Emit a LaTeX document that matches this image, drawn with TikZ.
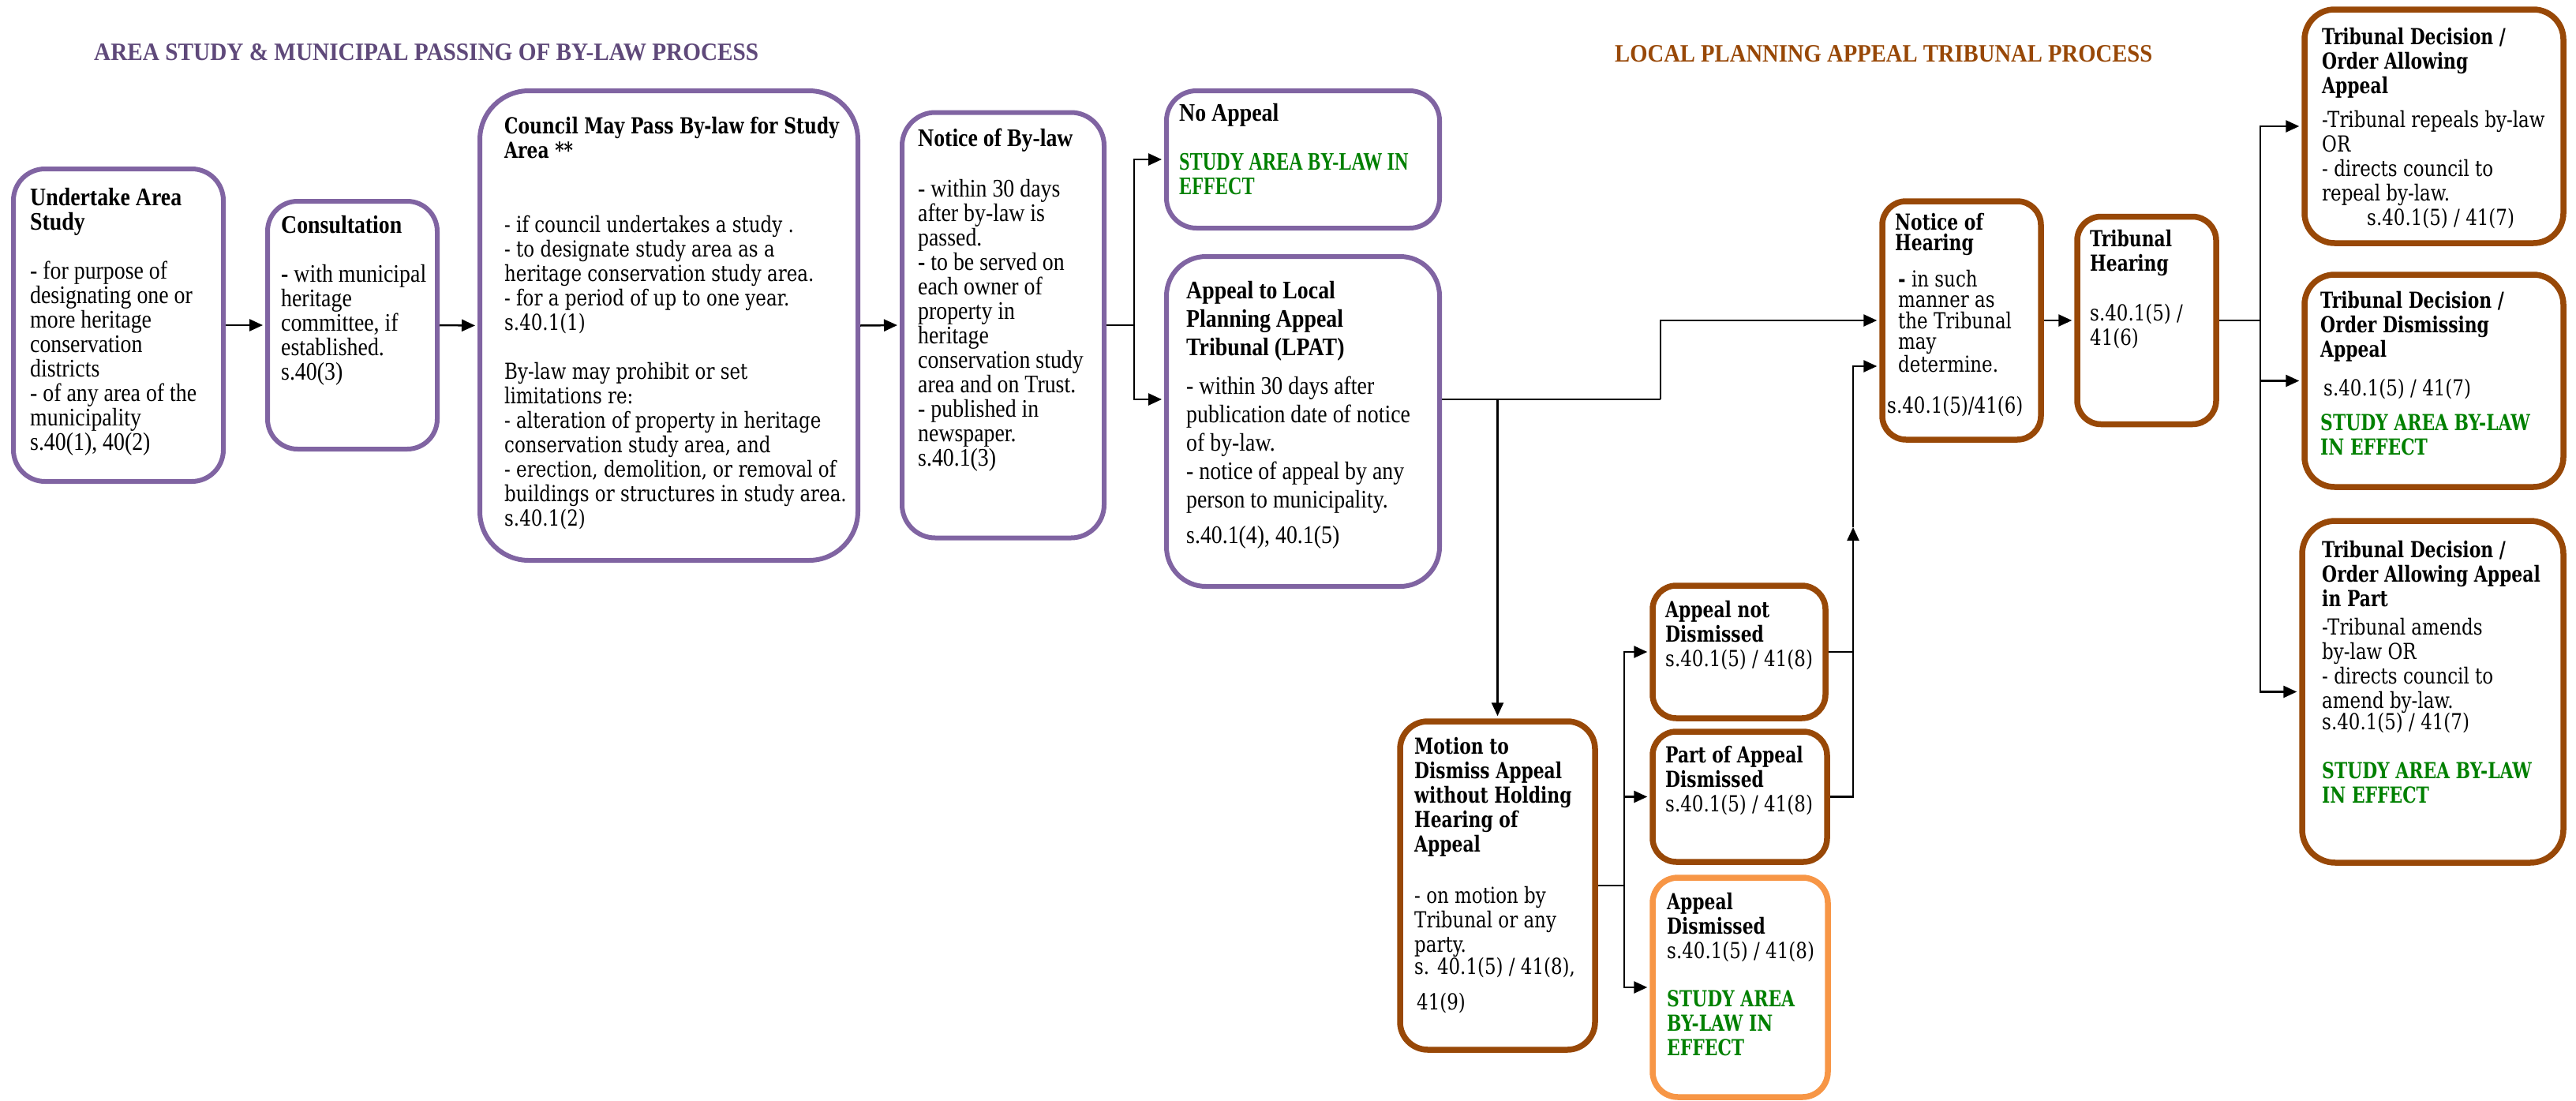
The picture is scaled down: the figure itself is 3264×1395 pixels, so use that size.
\documentclass[tikz,border=0pt]{standalone}
\usepackage{fontspec}
\usepackage{graphicx}
\usetikzlibrary{arrows.meta,calc}
\newfontfamily\narrowf[FakeStretch=0.87]{Liberation Serif}
\newfontfamily\widef[FakeStretch=0.82]{DejaVu Serif}
\newfontfamily\widebfont[FakeStretch=0.78,UprightFont={* Bold}]{DejaVu Serif}
\definecolor{purp}{HTML}{8064A2}
\definecolor{purptitle}{HTML}{5F497A}
\definecolor{brn}{HTML}{984807}
\definecolor{orng}{HTML}{F79646}
\definecolor{grn}{HTML}{008000}
\newcommand\wb[1]{{\widebfont #1}}
\newcommand\gw[1]{{\color{grn}\widebfont #1}}
\newcommand\gn[1]{{\color{grn}\bfseries\scalebox{0.87}[1]{#1}}}
\begin{document}
\begin{tikzpicture}[x=1pt,y=-1pt,
 pbox/.style={draw=purp,line width=6pt,fill=white},
 bbox/.style={draw=brn,line width=7.5pt,fill=white},
 obox/.style={draw=orng,line width=7.5pt,fill=white},
 ntxt/.style={anchor=north west,inner sep=0pt,align=left,font={\narrowf\fontsize{32pt}{31pt}\selectfont}},
 wtxt/.style={anchor=north west,inner sep=0pt,align=left,font={\widef\fontsize{28pt}{31pt}\selectfont}},
 arr/.style={line width=2.5pt,-{Triangle[length=17pt,width=15pt]},shorten >=3pt},
 ln/.style={line width=2.5pt},
 ttl/.style={anchor=west,inner sep=0pt}]
\fill[white] (0,0) rectangle (3264,1395);
\useasboundingbox (0,0) rectangle (3264,1395);

% titles
\node[ttl] (title1) at (119,66) {\resizebox{842pt}{21pt}{\color{purptitle}\narrowf\bfseries AREA STUDY \& MUNICIPAL PASSING OF BY-LAW PROCESS}};
\node[ttl] (title2) at (2046,68) {\resizebox{681pt}{21pt}{\color{brn}\narrowf\bfseries LOCAL PLANNING APPEAL TRIBUNAL PROCESS}};

% boxes
\node[pbox,rounded corners=40pt,minimum width=266pt,minimum height=396pt] (b1) at (150,412) {};
\node[pbox,rounded corners=38pt,minimum width=215pt,minimum height=314pt] (b2) at (446.5,412) {};
\node[pbox,rounded corners=62pt,minimum width=479pt,minimum height=595pt] (b3) at (847.5,412.5) {};
\node[pbox,rounded corners=42pt,minimum width=256pt,minimum height=539pt] (b4) at (1271,412) {};
\node[pbox,rounded corners=38pt,minimum width=346pt,minimum height=174pt] (b5) at (1651,202) {};
\node[pbox,rounded corners=50pt,minimum width=346pt,minimum height=418pt] (b6) at (1651,534) {};
\node[bbox,rounded corners=35pt,minimum width=247pt,minimum height=416pt] (b7) at (1897.5,1122) {};
\node[bbox,rounded corners=30pt,minimum width=219pt,minimum height=168pt] (b8) at (2203.5,826) {};
\node[bbox,rounded corners=30pt,minimum width=221pt,minimum height=165pt] (b9) at (2204.5,1009.5) {};
\node[obox,rounded corners=32pt,minimum width=222pt,minimum height=278pt] (b11) at (2205,1251) {};
\node[bbox,rounded corners=30pt,minimum width=201pt,minimum height=302pt] (b10) at (2485.5,406) {};
\node[bbox,rounded corners=30pt,minimum width=176pt,minimum height=263pt] (b12) at (2720,406) {};
\node[bbox,rounded corners=38pt,minimum width=328pt,minimum height=296pt] (b13) at (3084,160) {};
\node[bbox,rounded corners=38pt,minimum width=328pt,minimum height=269pt] (b14) at (3084,482.5) {};
\node[bbox,rounded corners=42pt,minimum width=331pt,minimum height=433pt] (b15) at (3082.5,876.5) {};

% texts
\node[ntxt] (t1) at (38,238) {\textbf{Undertake Area}\\\textbf{Study}\\[31pt]- for purpose of\\designating one or\\more heritage\\conservation\\districts\\- of any area of the\\municipality\\s.40(1), 40(2)};
\node[ntxt] (t2) at (356,273) {\textbf{Consultation}\\[31pt]\textbf{-} with municipal\\heritage\\committee, if\\established.\\s.40(3)};
\node[wtxt] (t3) at (639,148) {\wb{Council May Pass By-law for Study}\\\wb{Area **}\\[63pt]- if council undertakes a study .\\- to designate study area as a\\heritage conservation study area.\\- for a period of up to one year.\\s.40.1(1)\\[31pt]By-law may prohibit or set\\limitations re:\\- alteration of property in heritage\\conservation study area, and\\- erection, demolition, or removal of\\buildings or structures in study area.\\s.40.1(2)};
\node[ntxt] (t4) at (1163,163) {\textbf{Notice of By-law}\\[33pt]- within 30 days\\after by-law is\\passed.\\\textbf{-} to be served on\\each owner of\\property in\\heritage\\conservation study\\area and on Trust.\\- published in\\newspaper.\\s.40.1(3)};
\node[ntxt] (t5) at (1494,131) {\textbf{No Appeal}\\[31pt]\gn{STUDY AREA BY-LAW IN}\\\gn{EFFECT}};
\node[ntxt,font={\narrowf\fontsize{32pt}{36pt}\selectfont}] (t6) at (1503,356) {\textbf{Appeal to Local}\\\textbf{Planning Appeal}\\\textbf{Tribunal (LPAT)}\\[13pt]- within 30 days after\\publication date of notice\\of by-law.\\- notice of appeal by any\\person to municipality.\\[9pt]s.40.1(4), 40.1(5)};
\node[wtxt] (t7) at (1792,934) {\wb{Motion to}\\\wb{Dismiss Appeal}\\\wb{without Holding}\\\wb{Hearing of}\\\wb{Appeal}\\[34pt]- on motion by\\Tribunal or any\\party.\\[-3pt]s. 40.1(5) / 41(8),\\[14pt]\hspace*{3pt}41(9)};
\node[wtxt] (t8) at (2110,761) {\wb{Appeal not}\\\wb{Dismissed}\\s.40.1(5) / 41(8)};
\node[wtxt] (t9) at (2110,945) {\wb{Part of Appeal}\\\wb{Dismissed}\\s.40.1(5) / 41(8)};
\node[wtxt] (t11) at (2112,1131) {\wb{Appeal}\\\wb{Dismissed}\\s.40.1(5) / 41(8)\\[30pt]\gw{STUDY AREA}\\\gw{BY-LAW IN}\\\gw{EFFECT}};
\node[wtxt,font={\widef\fontsize{28pt}{26.5pt}\selectfont}] (t10) at (2391,270) {\hspace*{10pt}\wb{Notice of}\\\hspace*{10pt}\wb{Hearing}\\[17pt]\hspace*{14pt}\textbf{-} in such\\\hspace*{14pt}manner as\\\hspace*{14pt}the Tribunal\\\hspace*{14pt}may\\\hspace*{14pt}determine.\\[26pt]s.40.1(5)/41(6)};
\node[wtxt] (t12) at (2648,291) {\wb{Tribunal}\\\wb{Hearing}\\[32pt]s.40.1(5) /\\41(6)};
\node[wtxt] (t13) at (2942,35) {\wb{Tribunal Decision /}\\\wb{Order Allowing}\\\wb{Appeal}\\[12pt]-Tribunal repeals by-law\\OR\\- directs council to\\repeal by-law.\\\hspace*{57pt}s.40.1(5) / 41(7)};
\node[wtxt] (t14) at (2940,369) {\wb{Tribunal Decision /}\\\wb{Order Dismissing}\\\wb{Appeal}\\[18pt]\hspace*{4pt}s.40.1(5) / 41(7)\\[13pt]\gw{STUDY AREA BY-LAW}\\\gw{IN EFFECT}};
\node[wtxt] (t15) at (2942,685) {\wb{Tribunal Decision /}\\\wb{Order Allowing Appeal}\\\wb{in Part}\\[5pt]-Tribunal amends\\by-law OR\\- directs council to\\amend by-law.\\[-4pt]s.40.1(5) / 41(7)\\[31pt]\gw{STUDY AREA BY-LAW}\\\gw{IN EFFECT}};

% connectors
\draw[arr] (b1.east) -- (b2.west);
\draw[arr] (b2.east) -- (b3.west);
\draw[arr] (b3.east) -- (b4.west);
\coordinate (j1) at (1437,412);
\coordinate (j2) at (1437,506);
\draw[ln] (b4.east) -- (j1);
\draw[arr] (j1) |- (b5.west);
\draw[arr] (j1) -- (j2) -- (b6.west |- j2);
\coordinate (k0) at (1897.5,506);
\coordinate (k1) at (2104,506);
\draw[ln] (b6.east |- j2) -- (k1);
\draw[arr] (k1) |- (b10.west);
\draw[arr] (k0) -- (b7.north);
\coordinate (m0) at (2058,1122);
\draw[ln] (b7.east) -- (m0);
\draw[arr] (m0) |- (b8.west);
\draw[arr] (m0) |- (b9.west);
\draw[arr] (m0) |- (b11.west);
\coordinate (n1) at (2348,668);
\coordinate (n2) at (2348,464);
\draw[ln] (b8.east) -- (b8.east -| n1);
\draw[arr,shorten >=0pt] (b9.east) -| (n1);
\draw[arr] (n1) |- (b10.west |- n2);
\draw[arr] (b10.east) -- (b12.west);
\coordinate (q0) at (2864,406);
\draw[ln] (b12.east) -- (q0);
\draw[arr] (q0) |- (b13.west);
\draw[arr] (q0) |- (b14.west);
\draw[arr] (q0) |- (b15.west);
\end{tikzpicture}
\end{document}
